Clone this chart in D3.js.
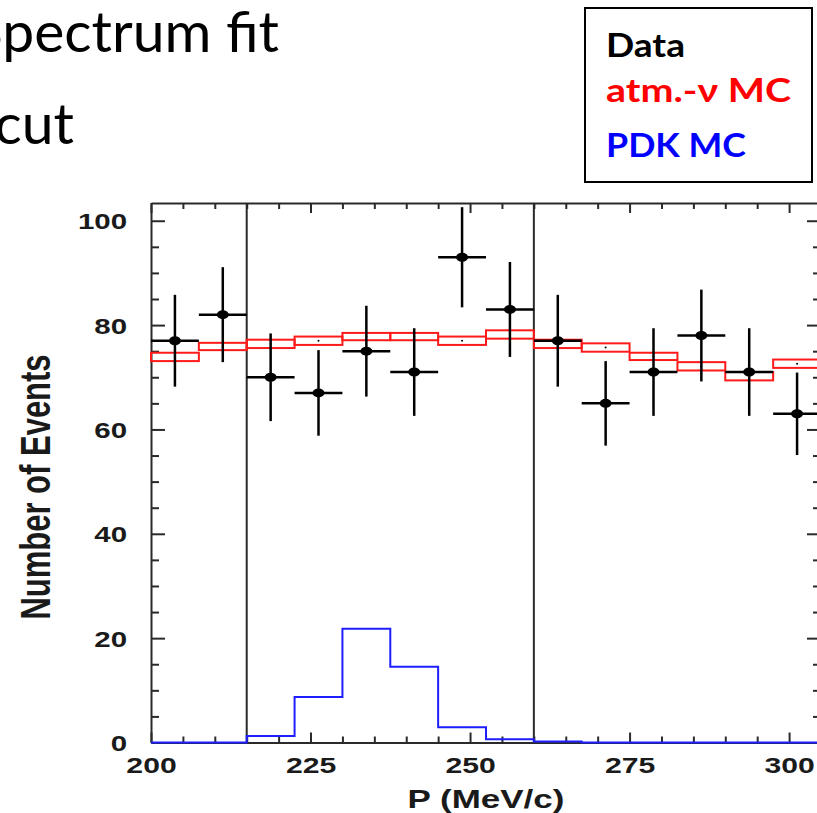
<!DOCTYPE html>
<html>
<head>
<meta charset="utf-8">
<script src="https://cdn.jsdelivr.net/npm/d3@7"></script>
<style>
  html, body { margin: 0; padding: 0; background: #fff; }
  svg { display: block; }
</style>
</head>
<body>
<svg id="chart" width="817" height="813"></svg>
<script>
// Momentum spectrum: data points, atmospheric-neutrino MC band and proton-decay MC histogram
const binLowEdges = [200, 207.5, 215, 222.5, 230, 237.5, 245, 252.5, 260, 267.5, 275, 282.5, 290, 297.5];
const binWidth = 7.5;
const dataCounts = [77, 82, 70, 67, 75, 71, 93, 83, 77, 65, 71, 78, 71, 63];
const dataErrors = [8.8, 9.1, 8.4, 8.2, 8.7, 8.4, 9.6, 9.1, 8.8, 8.1, 8.4, 8.8, 8.4, 7.9];
const atmMC = [73.9, 75.9, 76.4, 77.0, 77.8, 77.8, 77.0, 78.2, 76.4, 75.7, 74.0, 72.1, 70.2, 72.6];
const atmMCErr = [0.8, 0.7, 0.8, 0.8, 0.7, 0.7, 0.8, 0.8, 0.8, 0.8, 0.7, 0.8, 0.8, 0.8];
const pdkMC = [0, 0, 1.25, 8.7, 21.8, 14.5, 2.9, 0.6, 0.2, 0, 0, 0, 0, 0];
const cutEdges = [215, 260];
const xMajorTicks = [200, 225, 250, 275, 300];
const yMajorTicks = [0, 20, 40, 60, 80, 100];
const legendItems = ["Data", "atm.-\u03BD MC", "PDK MC"];
const legendColors = ["#000000", "#ff0000", "#0000ff"];

const svg = d3.select("#chart");
svg.append("rect").attr("width", 817).attr("height", 813).attr("fill", "#fff");

const axisColor = "#2a2a2a";
const labelFont = "'Liberation Sans', Arial, Helvetica, sans-serif";
const slideFont = "Lato, 'Open Sans', sans-serif";
const stretch = 1.37; // plot text is drawn wide

const x = d3.scaleLinear().domain([200, 305]).range([151, 821]);
const y = d3.scaleLinear().domain([0, 103.4]).range([742.5, 203]);

// ---- slide text ----
svg.append("text")
  .attr("x", 279).attr("y", 52)
  .attr("text-anchor", "end")
  .attr("font-family", slideFont).attr("font-size", 57)
  .attr("fill", "#000")
  .text("Spectrum fit");
svg.append("text")
  .attr("x", 74).attr("y", 144)
  .attr("text-anchor", "end")
  .attr("font-family", slideFont).attr("font-size", 57)
  .attr("fill", "#000")
  .text("cut");

// ---- legend box ----
const legend = svg.append("g");
legend.append("rect")
  .attr("x", 585).attr("y", 8).attr("width", 227).attr("height", 174)
  .attr("fill", "#fff").attr("stroke", "#000").attr("stroke-width", 2);
const legendBaselines = [57, 102, 157];
const legendWidths = [79, 185, 140];
legend.selectAll("text.leg")
  .data(legendItems)
  .join("text")
  .attr("class", "leg")
  .attr("x", 606)
  .attr("y", (d, i) => legendBaselines[i])
  .attr("font-family", slideFont)
  .attr("font-weight", "bold")
  .attr("font-size", 33)
  .attr("fill", (d, i) => legendColors[i])
  .attr("textLength", (d, i) => legendWidths[i])
  .attr("lengthAdjust", "spacingAndGlyphs")
  .text(d => d);

// ---- plot ----
const plot = svg.append("g");

// frame axes
function styleAxis(g) {
  g.selectAll("path.domain").attr("stroke", axisColor).attr("stroke-width", 2);
  g.selectAll(".tick line").attr("stroke", axisColor).attr("stroke-width", 2);
}

const xMinor = d3.range(205, 305, 5).filter(v => !xMajorTicks.includes(v));
const yMinor = d3.range(5, 103, 5).filter(v => !yMajorTicks.includes(v));

// bottom
const gBottom = plot.append("g").attr("transform", `translate(0,${y(0)})`)
  .call(d3.axisBottom(x).tickValues(xMajorTicks).tickSizeInner(-10).tickSizeOuter(0).tickPadding(15).tickFormat(d3.format("d")));
gBottom.call(styleAxis);
gBottom.selectAll("text")
  .attr("font-family", labelFont).attr("font-weight", "bold").attr("font-size", 22)
  .attr("fill", "#1a1a1a")
  .attr("transform", `scale(${stretch},1)`);
plot.append("g").attr("transform", `translate(0,${y(0)})`)
  .call(d3.axisBottom(x).tickValues(xMinor).tickSizeInner(-6).tickSizeOuter(0).tickFormat(""))
  .call(g => g.select("path.domain").remove())
  .call(styleAxis);

// top
plot.append("g").attr("transform", `translate(0,${y.range()[1]})`)
  .call(d3.axisTop(x).tickValues(xMajorTicks).tickSizeInner(-10).tickSizeOuter(0).tickFormat(""))
  .call(styleAxis);
plot.append("g").attr("transform", `translate(0,${y.range()[1]})`)
  .call(d3.axisTop(x).tickValues(xMinor).tickSizeInner(-6).tickSizeOuter(0).tickFormat(""))
  .call(g => g.select("path.domain").remove())
  .call(styleAxis);

// left
const gLeft = plot.append("g").attr("transform", `translate(${x(200)},0)`)
  .call(d3.axisLeft(y).tickValues(yMajorTicks).tickSizeInner(-14).tickSizeOuter(0).tickPadding(24).tickFormat(d3.format("d")));
gLeft.call(styleAxis);
gLeft.selectAll("text")
  .attr("font-family", labelFont).attr("font-weight", "bold").attr("font-size", 21.5)
  .attr("fill", "#1a1a1a")
  .attr("dy", "0.38em")
  .attr("x", -24 / stretch)
  .attr("transform", `scale(${stretch},1)`);
plot.append("g").attr("transform", `translate(${x(200)},0)`)
  .call(d3.axisLeft(y).tickValues(yMinor).tickSizeInner(-8).tickSizeOuter(0).tickFormat(""))
  .call(g => g.select("path.domain").remove())
  .call(styleAxis);

// right
plot.append("g").attr("transform", `translate(${x(305)},0)`)
  .call(d3.axisRight(y).tickValues(yMajorTicks).tickSizeInner(-14).tickSizeOuter(0).tickFormat(""))
  .call(styleAxis);
plot.append("g").attr("transform", `translate(${x(305)},0)`)
  .call(d3.axisRight(y).tickValues(yMinor).tickSizeInner(-8).tickSizeOuter(0).tickFormat(""))
  .call(g => g.select("path.domain").remove())
  .call(styleAxis);

// axis titles
plot.append("text")
  .attr("transform", `translate(486,808) scale(1.4,1)`)
  .attr("text-anchor", "middle")
  .attr("font-family", labelFont).attr("font-weight", "bold").attr("font-size", 25)
  .attr("fill", "#1a1a1a")
  .text("P (MeV/c)");
plot.append("text")
  .attr("transform", `translate(50,487) scale(1.4,1) rotate(-90)`)
  .attr("text-anchor", "middle")
  .attr("font-family", labelFont).attr("font-weight", "bold").attr("font-size", 31)
  .attr("fill", "#1a1a1a")
  .text("Number of Events");

// cut lines
plot.selectAll("line.cut")
  .data(cutEdges)
  .join("line")
  .attr("class", "cut")
  .attr("x1", d => x(d)).attr("x2", d => x(d))
  .attr("y1", y(0)).attr("y2", y.range()[1])
  .attr("stroke", axisColor).attr("stroke-width", 2);

const bins = binLowEdges.map((lo, i) => ({
  lo, hi: lo + binWidth, mid: lo + binWidth / 2,
  n: dataCounts[i], err: dataErrors[i],
  mc: atmMC[i], mcErr: atmMCErr[i], pdk: pdkMC[i]
}));

// atmospheric-neutrino MC boxes
plot.selectAll("rect.mc")
  .data(bins)
  .join("rect")
  .attr("class", "mc")
  .attr("x", d => x(d.lo))
  .attr("width", d => x(d.hi) - x(d.lo))
  .attr("y", d => y(d.mc + d.mcErr))
  .attr("height", d => y(d.mc - d.mcErr) - y(d.mc + d.mcErr))
  .attr("fill", "none")
  .attr("stroke", "#ff1a1a")
  .attr("stroke-width", 2);
plot.selectAll("circle.mcdot")
  .data(bins)
  .join("circle")
  .attr("class", "mcdot")
  .attr("cx", d => x(d.mid))
  .attr("cy", d => y(d.mc))
  .attr("r", 1)
  .attr("fill", "#000");

// proton-decay MC histogram
const stepPts = bins.map(d => [d.lo, d.pdk]).concat([[305, pdkMC[pdkMC.length - 1]]]);
plot.append("path")
  .datum(stepPts)
  .attr("d", d3.line().x(d => x(d[0])).y(d => y(d[1])).curve(d3.curveStepAfter))
  .attr("fill", "none")
  .attr("stroke", "#1e1eff")
  .attr("stroke-width", 2);

// data points with error bars
const pts = plot.selectAll("g.pt").data(bins).join("g").attr("class", "pt");
pts.append("line")
  .attr("x1", d => x(d.lo)).attr("x2", d => x(d.hi))
  .attr("y1", d => y(d.n)).attr("y2", d => y(d.n))
  .attr("stroke", "#000").attr("stroke-width", 2.5);
pts.append("line")
  .attr("x1", d => x(d.mid)).attr("x2", d => x(d.mid))
  .attr("y1", d => y(d.n + d.err)).attr("y2", d => y(d.n - d.err))
  .attr("stroke", "#000").attr("stroke-width", 2.5);
pts.append("ellipse")
  .attr("cx", d => x(d.mid)).attr("cy", d => y(d.n))
  .attr("rx", 6).attr("ry", 4.5)
  .attr("fill", "#000");
</script>
</body>
</html>
